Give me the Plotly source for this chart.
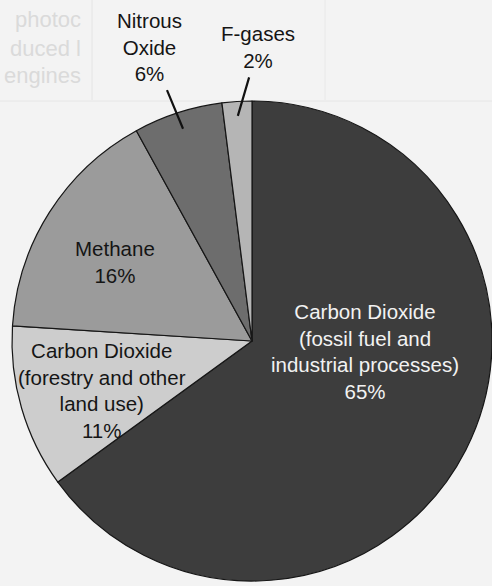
import math
import plotly.graph_objects as go

# Greenhouse gas emissions by gas
labels = [
    "Carbon Dioxide<br>(fossil fuel and<br>industrial processes)",
    "Carbon Dioxide<br>(forestry and other<br>land use)",
    "Methane",
    "Nitrous<br>Oxide",
    "F-gases",
]
shares = [65, 11, 16, 6, 2]
colors = ["#3d3d3d", "#cdcdcd", "#9b9b9b", "#6d6d6d", "#b5b5b5"]
text_colors = ["#f2f2f2", "#151515", "#151515", "#151515", "#151515"]

W, H = 492, 586
CX, CY, R = 252, 341, 240  # pie centre and radius in pixels


def px(x):
    return x / W


def py(y):
    return 1 - y / H


def slice_point(i, frac):
    """Pixel point at the middle angle of slice i, at frac * radius."""
    total = sum(shares)
    start = sum(shares[:i]) / total * 360
    mid = start + shares[i] / total * 360 / 2
    a = math.radians(mid)
    return CX + frac * R * math.sin(a), CY - frac * R * math.cos(a)


fig = go.Figure(
    go.Pie(
        labels=labels,
        values=shares,
        sort=False,
        direction="clockwise",
        rotation=0,
        textinfo="none",
        hoverinfo="label+percent",
        marker=dict(colors=colors, line=dict(color="#161616", width=1.2)),
        domain=dict(x=[px(CX - R), px(CX + R)], y=[py(CY + R), py(CY - R)]),
        showlegend=False,
    )
)

font = dict(family="Liberation Sans, Arial, sans-serif", size=20.5)

# label centres (pixels) for the slices labelled inside the pie
inside_pos = {0: (365, 351), 1: (102, 390), 2: (115, 262)}
annotations = []
for i, (x, y) in inside_pos.items():
    annotations.append(
        dict(
            x=px(x), y=py(y), xref="paper", yref="paper",
            text=f"{labels[i]}<br>{shares[i]}%",
            showarrow=False,
            font=dict(color=text_colors[i], **font),
            xanchor="center", yanchor="middle", align="center",
        )
    )

# small slices labelled outside with leader lines
outside_pos = {3: (149, 47), 4: (258, 47)}
outside_frac = {3: 0.93, 4: 0.94}
for i, (tx, ty) in outside_pos.items():
    sx, sy = slice_point(i, outside_frac[i])
    annotations.append(
        dict(
            x=px(sx), y=py(sy), xref="paper", yref="paper",
            ax=tx - sx, ay=ty - sy, axref="pixel", ayref="pixel",
            text=f"{labels[i]}<br>{shares[i]}%",
            showarrow=True, arrowhead=0, arrowwidth=2.2, arrowcolor="#111111",
            standoff=0, startstandoff=4,
            font=dict(color=text_colors[i], **font),
            align="center",
        )
    )

# faint print from the surrounding page
page_words = [("photoc", 20), ("duced l", 48), ("engines", 76)]
for word, y in page_words:
    annotations.append(
        dict(
            x=px(83), y=py(y), xref="paper", yref="paper", text=word,
            showarrow=False,
            font=dict(family="Liberation Sans, Arial, sans-serif", size=22, color="#dadada"),
            xanchor="right", yanchor="middle",
        )
    )

shapes = [
    dict(type="line", xref="paper", yref="paper", x0=px(92), x1=px(92), y0=py(0), y1=py(100),
         line=dict(color="#e4e4e4", width=1), layer="below"),
    dict(type="line", xref="paper", yref="paper", x0=px(325), x1=px(325), y0=py(0), y1=py(100),
         line=dict(color="#e8e8e8", width=1), layer="below"),
    dict(type="line", xref="paper", yref="paper", x0=0, x1=1, y0=py(101), y1=py(101),
         line=dict(color="#e6e6e6", width=1), layer="below"),
]

fig.update_layout(
    width=W, height=H,
    margin=dict(l=0, r=0, t=0, b=0),
    paper_bgcolor="#f3f3f3",
    plot_bgcolor="#f3f3f3",
    annotations=annotations,
    shapes=shapes,
)

fig.write_html("out.html")
